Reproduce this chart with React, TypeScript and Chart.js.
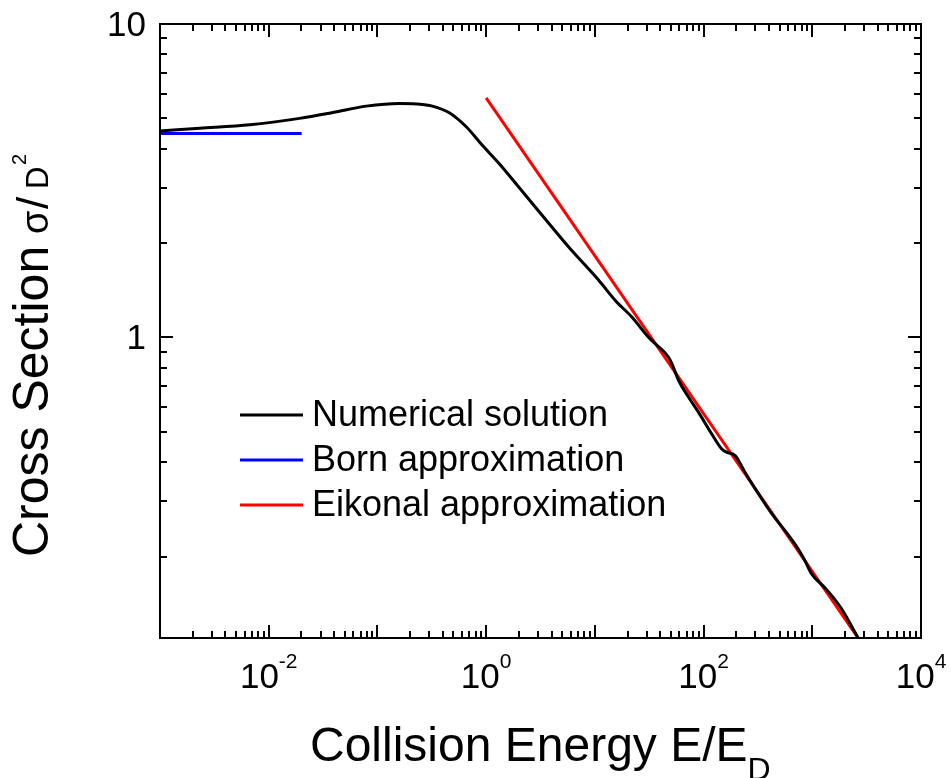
import React, { useEffect, useRef } from 'react';
import { Chart, registerables } from 'chart.js';

Chart.register(...registerables);

// ---- data ----
const numericalE = [
  0.001, 0.00233, 0.0067, 0.0192, 0.039, 0.079, 0.159, 0.228, 0.32, 0.458, 0.656, 0.918,
  1.315, 2.01, 3.78, 5.77, 10.9, 15.5, 22.0, 31.3, 36.0, 47.7, 51.2, 59.0, 72.8, 90, 119, 147,
  164, 195, 241, 320, 424, 561, 745, 857, 986, 1306, 1734, 1995, 2642, 3500,
];
const numericalSigma = [
  4.56, 4.65, 4.77, 5.0, 5.22, 5.47, 5.58, 5.56, 5.47, 5.21, 4.7, 4.11,
  3.59, 3.01, 2.31, 1.94, 1.52, 1.31, 1.16, 1.0, 0.955, 0.865, 0.824, 0.729, 0.645, 0.577, 0.492, 0.441,
  0.43, 0.42, 0.371, 0.317, 0.274, 0.242, 0.211, 0.194, 0.176, 0.159, 0.141, 0.131, 0.11, 0.095,
];
const bornE = [0.001, 0.0201];
const bornSigma = [4.47, 4.47];
const eikonalE = [1, 2640];
const eikonalSigma = [5.81, 0.11];

const seriesLabels = ['Numerical solution', 'Born approximation', 'Eikonal approximation'];
const seriesColors = ['#000000', '#0000ff', '#ff0000'];

const xMin = 1e-3;
const xMax = 1e4;
const yMin = 0.11;
const yMax = 10;
const xDecadeExponents = [-3, -2, -1, 0, 1, 2, 3, 4];
const xLabelExponents = [-2, 0, 2, 4];
const yDecadeExponents = [-1, 0, 1];
const yLabelValues = ['1', '10'];
const minorMultipliers = [2, 3, 4, 5, 6, 7, 8, 9];

const xTitleMain = 'Collision Energy E/E';
const xTitleSub = 'D';
const yTitleMain = 'Cross Section';
const yTitleSigma = '\u03c3';
const yTitleSlash = '/';
const yTitleD = 'D';
const yTitleSup = '2';

const FONT = 'Arial, "Liberation Sans", Helvetica, sans-serif';

type Run = { text: string; size: number; dy: number; at?: number };

function runsWidth(ctx: CanvasRenderingContext2D, runs: Run[]) {
  let w = 0;
  for (const r of runs) {
    ctx.font = `${r.size}px ${FONT}`;
    w += ctx.measureText(r.text).width;
  }
  return w;
}

function drawRuns(ctx: CanvasRenderingContext2D, runs: Run[], x: number, y: number) {
  let cx = x;
  ctx.textAlign = 'left';
  ctx.textBaseline = 'alphabetic';
  for (const r of runs) {
    ctx.font = `${r.size}px ${FONT}`;
    if (r.at !== undefined) cx = x + r.at;
    ctx.fillText(r.text, cx, y + r.dy);
    cx += ctx.measureText(r.text).width;
  }
}

const decorPlugin = {
  id: 'decor',
  afterDraw(chart: any) {
    const ctx: CanvasRenderingContext2D = chart.ctx;
    const area = chart.chartArea;
    const xs = chart.scales.x;
    const ys = chart.scales.y;
    ctx.save();
    ctx.strokeStyle = '#000';
    ctx.fillStyle = '#000';
    ctx.lineWidth = 2;
    ctx.lineCap = 'butt';

    // frame
    ctx.strokeRect(area.left, area.top, area.right - area.left, area.bottom - area.top);

    const majorLen = 13;
    const minorLen = 7;

    ctx.beginPath();
    // x ticks (bottom & top, inward)
    for (const e of xDecadeExponents) {
      const base = Math.pow(10, e);
      const vals: [number, number][] = [[base, majorLen]];
      for (const m of minorMultipliers) vals.push([m * base, minorLen]);
      for (const [v, len] of vals) {
        if (v < xMin - 1e-12 || v > xMax * 1.0000001) continue;
        const px = Math.round(xs.getPixelForValue(v));
        ctx.moveTo(px, area.bottom);
        ctx.lineTo(px, area.bottom - len);
        ctx.moveTo(px, area.top);
        ctx.lineTo(px, area.top + len);
      }
    }
    // y ticks (left & right, inward)
    for (const e of yDecadeExponents) {
      const base = Math.pow(10, e);
      const vals: [number, number][] = [[base, majorLen]];
      for (const m of minorMultipliers) vals.push([m * base, minorLen]);
      for (const [v, len] of vals) {
        if (v < yMin || v > yMax * 1.0000001) continue;
        const py = Math.round(ys.getPixelForValue(v));
        ctx.moveTo(area.left, py);
        ctx.lineTo(area.left + len, py);
        ctx.moveTo(area.right, py);
        ctx.lineTo(area.right - len, py);
      }
    }
    ctx.stroke();

    // x tick labels 10^n
    for (const e of xLabelExponents) {
      const px = xs.getPixelForValue(Math.pow(10, e));
      const runs: Run[] = [
        { text: '10', size: 35, dy: 0 },
        { text: String(e), size: 21, dy: -20 },
      ];
      const w = runsWidth(ctx, runs);
      drawRuns(ctx, runs, px - w / 2, area.bottom + 50);
    }

    // y tick labels
    ctx.font = `35px ${FONT}`;
    ctx.textAlign = 'right';
    ctx.textBaseline = 'alphabetic';
    for (const lbl of yLabelValues) {
      const py = ys.getPixelForValue(Number(lbl));
      ctx.fillText(lbl, area.left - 14, py + 12);
    }

    // x title
    drawRuns(
      ctx,
      [
        { text: xTitleMain, size: 48, dy: 0 },
        { text: xTitleSub, size: 32, dy: 19 },
      ],
      310,
      761
    );

    // y title (rotated, reading upward from the bottom)
    const yRuns: Run[] = [
      { text: yTitleMain, size: 50, dy: 0, at: 0 },
      { text: yTitleSigma, size: 38, dy: 0, at: 323 },
      { text: yTitleSlash, size: 44, dy: 0, at: 348 },
      { text: yTitleD, size: 31, dy: 0, at: 368 },
      { text: yTitleSup, size: 20, dy: -22, at: 392 },
    ];
    ctx.save();
    ctx.translate(48, 557);
    ctx.rotate(-Math.PI / 2);
    drawRuns(ctx, yRuns, 0, 0);
    ctx.restore();

    // legend
    const datasets = chart.data.datasets;
    for (let i = 0; i < datasets.length; i++) {
      const ly = 415 + 45 * i;
      ctx.strokeStyle = datasets[i].borderColor;
      ctx.lineWidth = 3;
      ctx.beginPath();
      ctx.moveTo(240, ly);
      ctx.lineTo(303, ly);
      ctx.stroke();
      ctx.fillStyle = '#000';
      ctx.font = `36px ${FONT}`;
      ctx.textAlign = 'left';
      ctx.textBaseline = 'alphabetic';
      ctx.fillText(datasets[i].label, 312, ly + 11);
    }

    ctx.restore();
  },
};

export default function App() {
  const canvasRef = useRef<HTMLCanvasElement | null>(null);

  useEffect(() => {
    const canvas = canvasRef.current;
    if (!canvas) return;
    const toPoints = (xsArr: number[], ysArr: number[]) =>
      xsArr.map((x, i) => ({ x, y: ysArr[i] }));

    const chart = new Chart(canvas, {
      type: 'line',
      data: {
        datasets: [
          {
            label: seriesLabels[0],
            data: toPoints(numericalE, numericalSigma),
            borderColor: seriesColors[0],
            borderWidth: 3,
            pointRadius: 0,
            cubicInterpolationMode: 'monotone',
            fill: false,
            clip: 0,
          },
          {
            label: seriesLabels[1],
            data: toPoints(bornE, bornSigma),
            borderColor: seriesColors[1],
            borderWidth: 3,
            pointRadius: 0,
            fill: false,
            clip: 0,
          },
          {
            label: seriesLabels[2],
            data: toPoints(eikonalE, eikonalSigma),
            borderColor: seriesColors[2],
            borderWidth: 3,
            pointRadius: 0,
            fill: false,
            clip: 0,
          },
        ],
      } as any,
      options: {
        responsive: false,
        animation: false,
        devicePixelRatio: 1,
        layout: { padding: { left: 160, right: 30, top: 24, bottom: 140 } },
        plugins: {
          legend: { display: false },
          tooltip: { enabled: false },
          title: { display: false },
        },
        scales: {
          x: { type: 'logarithmic', min: xMin, max: xMax, display: false },
          y: { type: 'logarithmic', min: yMin, max: yMax, display: false },
        },
      } as any,
      plugins: [decorPlugin],
    });
    return () => chart.destroy();
  }, []);

  return (
    <div style={{ position: 'fixed', left: 0, top: 0, width: 951, height: 778, background: '#fff' }}>
      <canvas ref={canvasRef} width={951} height={778} style={{ display: 'block' }} />
    </div>
  );
}
